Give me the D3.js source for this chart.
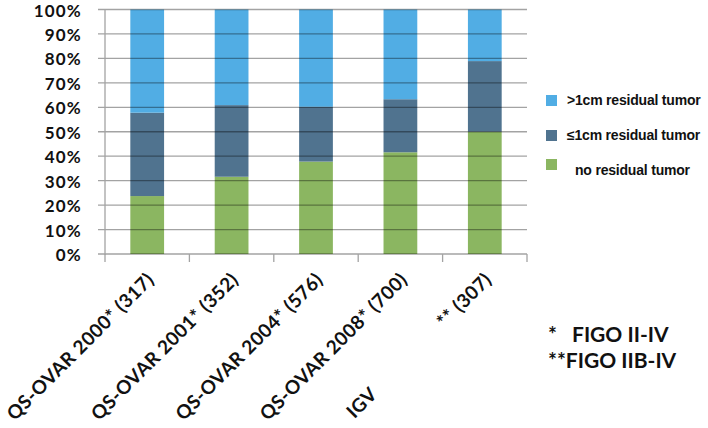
<!DOCTYPE html>
<html>
<head>
<meta charset="utf-8">
<script src="https://cdn.jsdelivr.net/npm/d3@7"></script>
<style>
  html, body { margin: 0; padding: 0; background: #fff; }
  svg { display: block; }
</style>
</head>
<body>
<svg id="chart" width="708" height="428"></svg>
<script>
const categories = ["QS-OVAR 2000", "QS-OVAR 2001", "QS-OVAR 2004", "QS-OVAR 2008", "IGV"];
const markers = ["*", "*", "*", "*", "**"];
const counts = [317, 352, 576, 700, 307];
const labelGaps = [0, 0, 0, 0, 94];
const noResidual = [23.7, 31.6, 37.8, 41.6, 50.0];
const le1cm = [34.1, 29.3, 22.4, 21.7, 28.9];
const gt1cm = [42.2, 39.1, 39.8, 36.7, 21.1];
const seriesNames = ["no residual tumor", "\u22641cm residual tumor", ">1cm residual tumor"];
const seriesColors = ["#8bb661", "#50738f", "#51ade4"];
const yTicks = [0, 10, 20, 30, 40, 50, 60, 70, 80, 90, 100];
const footnotes = ["*", "FIGO II-IV", "**FIGO IIB-IV"];

const svg = d3.select("#chart");
const plotL = 105, plotR = 527, plotT = 9.5, plotB = 254;

const x = d3.scaleBand().domain(categories).range([plotL, plotR]).paddingInner(0.6).paddingOuter(0.3);
const y = d3.scaleLinear().domain([0, 100]).range([plotB, plotT]);

const table = categories.map((c, i) => ({cat: c, s0: noResidual[i], s1: le1cm[i], s2: gt1cm[i]}));
const stack = d3.stack().keys(["s0", "s1", "s2"])(table);

// bars
svg.append("g").selectAll("g").data(stack).join("g")
  .attr("fill", (d, i) => seriesColors[i])
  .selectAll("rect").data(d => d).join("rect")
  .attr("x", d => x(d.data.cat))
  .attr("width", x.bandwidth())
  .attr("y", d => y(d[1]))
  .attr("height", d => y(d[0]) - y(d[1]));

// gridlines on top
svg.append("g").selectAll("line").data(yTicks).join("line")
  .attr("x1", plotL - 7).attr("x2", plotR)
  .attr("y1", d => y(d)).attr("y2", d => y(d))
  .attr("stroke", "rgba(0,0,0,0.36)").attr("stroke-width", 1.3);

// y axis line
svg.append("line").attr("x1", plotL).attr("x2", plotL).attr("y1", y(100)).attr("y2", y(0) + 1)
  .attr("stroke", "#a3a3a3").attr("stroke-width", 1.3);

// x ticks at band boundaries
const step = x.step();
const bounds = d3.range(categories.length + 1).map(i => plotL + i * step);
svg.append("g").selectAll("line").data(bounds).join("line")
  .attr("x1", d => d).attr("x2", d => d)
  .attr("y1", y(0)).attr("y2", y(0) + 8)
  .attr("stroke", "#a3a3a3").attr("stroke-width", 1.3);

// y tick labels
svg.append("g").selectAll("text").data(yTicks).join("text")
  .attr("x", 82).attr("y", d => y(d) + 7)
  .attr("text-anchor", "end")
  .attr("font-family", "Lato")
  .attr("font-weight", "bold")
  .attr("font-size", 17)
  .attr("letter-spacing", 1.2)
  .attr("fill", "#111")
  .text(d => d + "%");

// x labels
const xl = svg.append("g").selectAll("text").data(categories).join("text")
  .attr("transform", d => `translate(${x(d) + x.bandwidth() / 2 + 8},281) rotate(-45)`)
  .attr("text-anchor", "end")
  .attr("font-family", "Lato")
  .attr("font-weight", "bold")
  .attr("font-size", 19)
  .attr("letter-spacing", 0.45)
  .attr("fill", "#111");
xl.append("tspan").text(d => d);
xl.append("tspan")
  .attr("dx", (d, i) => labelGaps[i])
  .text((d, i) => markers[i] + " (" + counts[i] + ")");

// legend (top to bottom: >1cm, <=1cm, none)
const legendRows = [
  {name: seriesNames[2], color: seriesColors[2], sy: 95, ty: 104.5, tx: 567},
  {name: seriesNames[1], color: seriesColors[1], sy: 130, ty: 139.5, tx: 567},
  {name: seriesNames[0], color: seriesColors[0], sy: 159, ty: 174.5, tx: 575}
];
const lg = svg.append("g").selectAll("g").data(legendRows).join("g");
lg.append("rect").attr("x", 546).attr("y", d => d.sy).attr("width", 11).attr("height", 11).attr("fill", d => d.color);
lg.append("text").attr("x", d => d.tx).attr("y", d => d.ty)
  .attr("font-family", "Liberation Sans").attr("font-weight", "bold").attr("font-size", 14)
  .attr("letter-spacing", -0.2)
  .attr("fill", "#111").text(d => d.name);

// footnotes
const fn = svg.append("g").attr("font-family", "Lato").attr("font-weight", "bold").attr("font-size", 21).attr("fill", "#111");
fn.append("text").attr("x", 548).attr("y", 342).text(footnotes[0]);
fn.append("text").attr("x", 572).attr("y", 342).text(footnotes[1]);
fn.append("text").attr("x", 548).attr("y", 368).text(footnotes[2]);
</script>
</body>
</html>
